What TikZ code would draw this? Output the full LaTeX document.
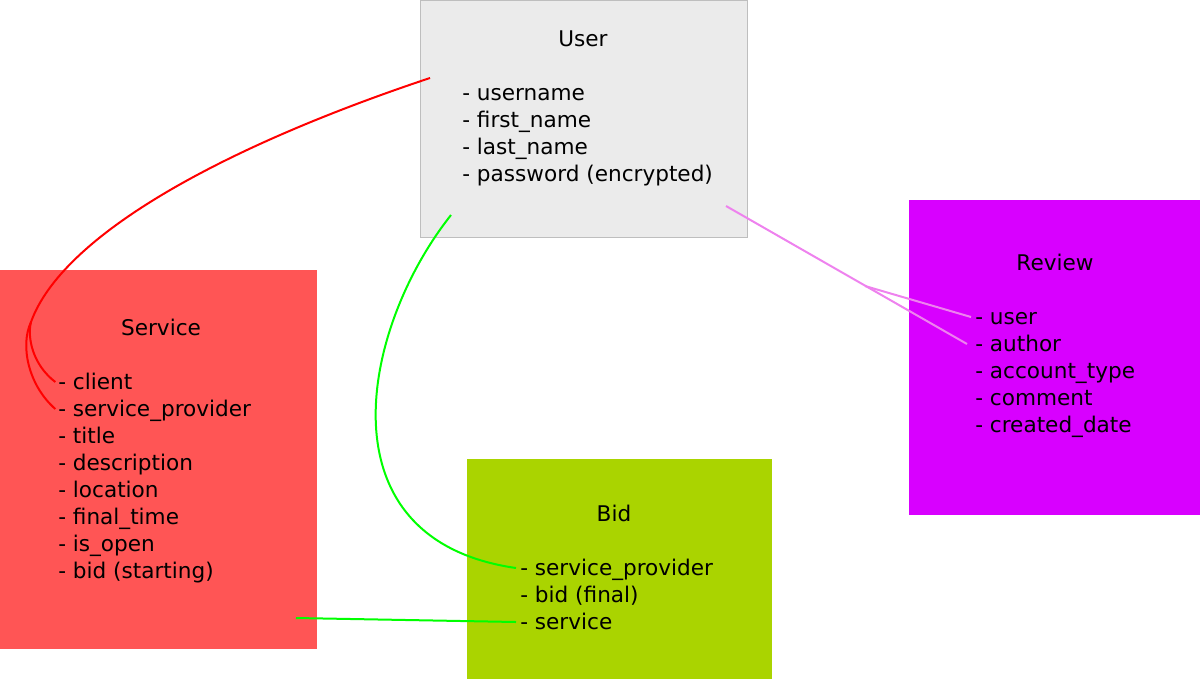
\documentclass[tikz,border=0pt]{standalone}
\usepackage{fontspec}
\setmainfont{DejaVu Sans}
\usetikzlibrary{positioning}

\definecolor{userfill}{HTML}{EBEBEB}
\definecolor{userline}{HTML}{BEBEBE}
\definecolor{servicefill}{HTML}{FF5555}
\definecolor{bidfill}{HTML}{AAD400}
\definecolor{reviewfill}{HTML}{D800FF}
\definecolor{linkred}{HTML}{FF0000}
\definecolor{linkgreen}{HTML}{00FF00}
\definecolor{linkpink}{HTML}{EE82EE}

\begin{document}
\begin{tikzpicture}[x=0.75pt, y=-0.75pt,
    every node/.style={font=\fontsize{16.2}{20.25}\selectfont},
    table/.style={anchor=north west, inner sep=0, outer sep=0},
    title/.style={inner sep=0, text height=12pt, text depth=1pt},
    attr/.style={anchor=west, inner sep=0, text height=12pt, text depth=1pt},
    link/.style={line width=1.5pt}]
  \useasboundingbox (0,0) rectangle (1200,679);

  % tables
  \node[table, fill=userfill, draw=userline, line width=0.75pt,
        minimum width=245.25pt, minimum height=177.75pt] (user) at (420,0) {};
  \node[table, fill=servicefill, minimum width=237.75pt, minimum height=284.25pt] (service) at (0,270) {};
  \node[table, fill=bidfill, minimum width=228.75pt, minimum height=165pt] (bid) at (467,459) {};
  \node[table, fill=reviewfill, minimum width=218.25pt, minimum height=236.25pt] (review) at (909,200) {};

  \node[title] (user-t) at (583,39) {User};
  \node[title] (service-t) at (161,328) {Service};
  \node[title] (bid-t) at (614,514) {Bid};
  \node[title] (review-t) at (1055,263) {Review};

  \foreach \t [count=\i from 0] in {username, first\_name, last\_name, password (encrypted)}
    \node[attr] (user-\i) at (462,{93+27*\i}) {- \t};
  \foreach \t [count=\i from 0] in {client, service\_provider, title, description, location, final\_time, is\_open, bid (starting)}
    \node[attr] (service-\i) at (58,{382+27*\i}) {- \t};
  \foreach \t [count=\i from 0] in {service\_provider, bid (final), service}
    \node[attr] (bid-\i) at (520,{568+27*\i}) {- \t};
  \foreach \t [count=\i from 0] in {user, author, account\_type, comment, created\_date}
    \node[attr] (review-\i) at (975,{317+27*\i}) {- \t};

  % link ends
  \coordinate (user-r) at (430,78);
  \coordinate (user-g) at (451,215);
  \coordinate (user-p) at (726,206);
  \coordinate (service-split) at (31,322);
  \coordinate (service-g) at (296,618);
  \coordinate (review-split) at (865,286);

  % links
  \draw[link, linkred] (user-r) .. controls (220,148) and (62,236) .. (service-split)
    .. controls (27,338) and (33,365) .. ([xshift=-2pt]service-0.west);
  \draw[link, linkred] (service-split) .. controls (20,345) and (28,385) .. ([xshift=-2pt]service-1.west);
  \draw[link, linkgreen] (user-g) .. controls (360,330) and (320,540) .. ([xshift=-3pt]bid-0.west);
  \draw[link, linkgreen] (service-g) -- ([xshift=-3pt]bid-2.west);
  \draw[link, linkpink] (user-p) -- ([xshift=-6pt]review-1.west);
  \draw[link, linkpink] (review-split) -- ([xshift=-3pt]review-0.west);
\end{tikzpicture}
\end{document}
